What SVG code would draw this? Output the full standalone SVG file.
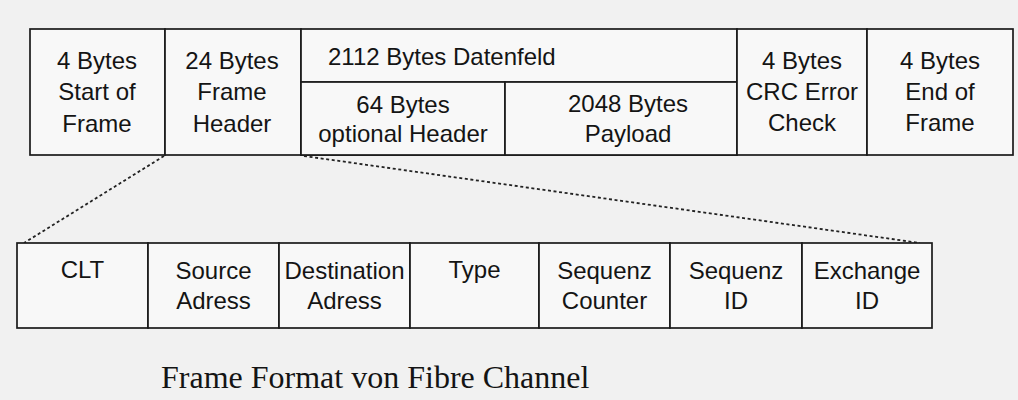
<svg xmlns="http://www.w3.org/2000/svg" width="1018" height="400" viewBox="0 0 1018 400">
  <defs>
    <style>
      .cell { fill: #f8f8f8; stroke: #1a1a1a; stroke-width: 1.7; }
      .rule { stroke: #1a1a1a; stroke-width: 1.7; fill: none; }
      .lbl { font-family: "Liberation Sans", Arial, sans-serif; font-size: 24px; fill: #141414; text-anchor: middle; }
      .lbl2 { font-family: "Liberation Sans", Arial, sans-serif; font-size: 24px; fill: #141414; text-anchor: middle; }
      .dash { stroke: #222; stroke-width: 1.8; stroke-dasharray: 3 2.6; fill: none; }
      .title { font-family: "Liberation Serif", "Times New Roman", serif; font-size: 32px; fill: #141414; }
    </style>
  </defs>

  <rect width="1018" height="400" fill="#f1f1f1"/>

  <!-- Fibre Channel frame -->
  <g id="frame">
    <g id="sof">
      <rect class="cell" x="30" y="29" width="135" height="126"/>
      <text class="lbl" x="97" y="69">4 Bytes</text>
      <text class="lbl" x="97" y="100">Start of</text>
      <text class="lbl" x="97" y="132">Frame</text>
    </g>
    <g id="frame-header">
      <rect class="cell" x="165" y="29" width="136" height="126"/>
      <text class="lbl" x="232" y="69">24 Bytes</text>
      <text class="lbl" x="232" y="100">Frame</text>
      <text class="lbl" x="232" y="132">Header</text>
    </g>
    <g id="datenfeld">
      <rect class="cell" x="301" y="29" width="436" height="126"/>
      <line class="rule" x1="301" y1="82" x2="737" y2="82"/>
      <text class="lbl" x="328" y="65" style="text-anchor:start">2112 Bytes Datenfeld</text>
    </g>
    <g id="optional-header">
      <rect class="cell" x="301" y="82" width="204" height="73"/>
      <text class="lbl" x="403" y="113">64 Bytes</text>
      <text class="lbl" x="403" y="142">optional Header</text>
    </g>
    <g id="payload">
      <rect class="cell" x="505" y="82" width="232" height="73"/>
      <text class="lbl" x="628" y="112">2048 Bytes</text>
      <text class="lbl" x="628" y="142">Payload</text>
    </g>
    <g id="crc">
      <rect class="cell" x="737" y="29" width="130" height="126"/>
      <text class="lbl" x="802" y="69">4 Bytes</text>
      <text class="lbl" x="802" y="100">CRC Error</text>
      <text class="lbl" x="802" y="131">Check</text>
    </g>
    <g id="eof">
      <rect class="cell" x="867" y="29" width="146" height="126"/>
      <text class="lbl" x="940" y="69">4 Bytes</text>
      <text class="lbl" x="940" y="100">End of</text>
      <text class="lbl" x="940" y="131">Frame</text>
    </g>
  </g>

  <!-- expansion of the frame header -->
  <g id="connectors">
    <line class="dash" x1="164" y1="156" x2="24" y2="243"/>
    <line class="dash" x1="304" y1="156" x2="920" y2="243"/>
  </g>

  <!-- header fields -->
  <g id="header-fields">
    <g id="clt">
      <rect class="cell" x="17" y="243" width="131" height="85"/>
      <text class="lbl2" x="82.5" y="278">CLT</text>
    </g>
    <g id="source">
      <rect class="cell" x="148" y="243" width="131" height="85"/>
      <text class="lbl2" x="213.5" y="279">Source</text>
      <text class="lbl2" x="213.5" y="309">Adress</text>
    </g>
    <g id="destination">
      <rect class="cell" x="279" y="243" width="131" height="85"/>
      <text class="lbl2" x="344.5" y="279">Destination</text>
      <text class="lbl2" x="344.5" y="309">Adress</text>
    </g>
    <g id="type">
      <rect class="cell" x="410" y="243" width="129" height="85"/>
      <text class="lbl2" x="474.5" y="278">Type</text>
    </g>
    <g id="seq-counter">
      <rect class="cell" x="539" y="243" width="131" height="85"/>
      <text class="lbl2" x="604.5" y="279">Sequenz</text>
      <text class="lbl2" x="604.5" y="309">Counter</text>
    </g>
    <g id="seq-id">
      <rect class="cell" x="670" y="243" width="132" height="85"/>
      <text class="lbl2" x="736" y="279">Sequenz</text>
      <text class="lbl2" x="736" y="309">ID</text>
    </g>
    <g id="exchange-id">
      <rect class="cell" x="802" y="243" width="130" height="85"/>
      <text class="lbl2" x="867" y="279">Exchange</text>
      <text class="lbl2" x="867" y="309">ID</text>
    </g>
  </g>

  <text class="title" x="161" y="388">Frame Format von Fibre Channel</text>
</svg>
